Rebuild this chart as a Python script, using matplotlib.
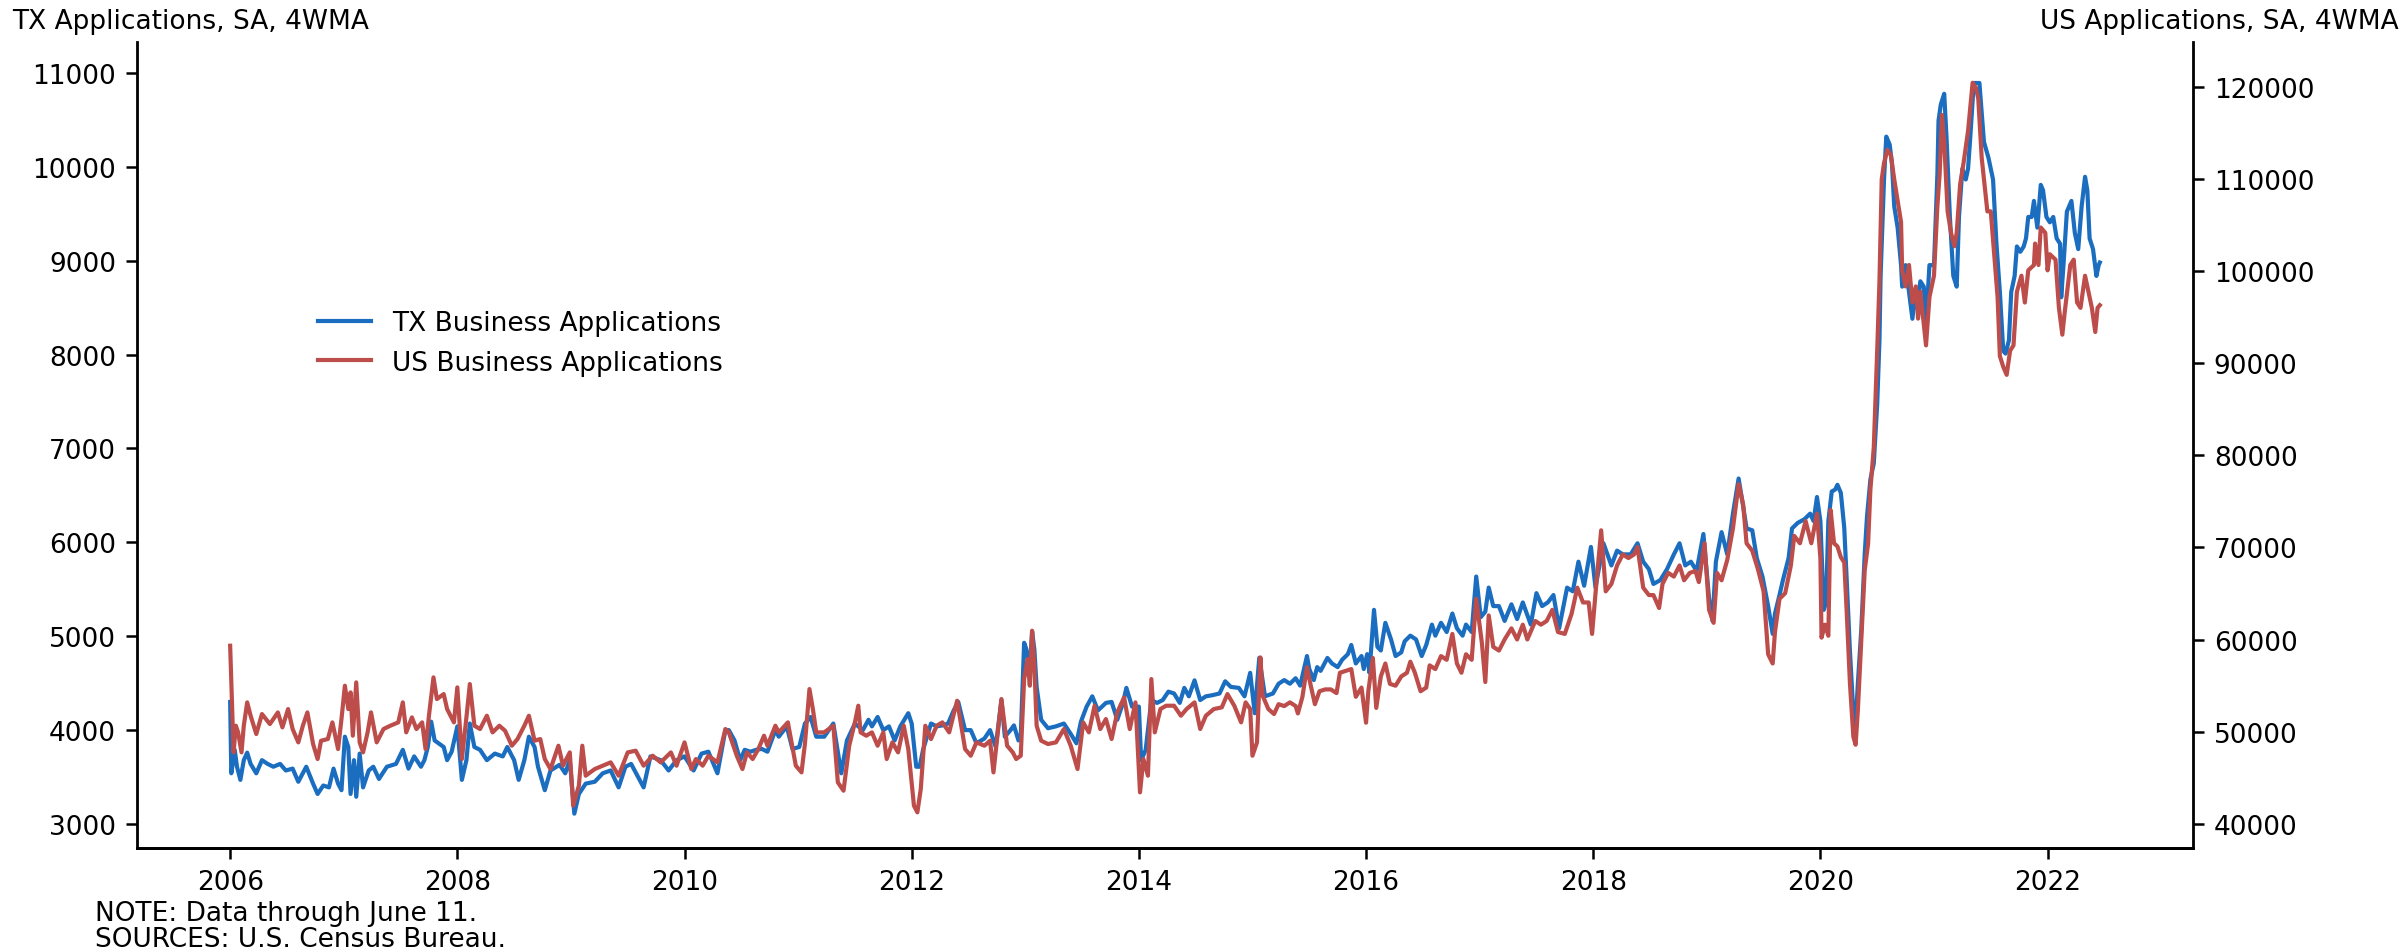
import matplotlib
matplotlib.use("Agg")
import matplotlib.pyplot as plt
from matplotlib.ticker import FuncFormatter

# ---------------- data (decimal years) ----------------
tx_years = [
    2006.00, 2006.01, 2006.04, 2006.06, 2006.09, 2006.12, 2006.15, 2006.18, 2006.23, 2006.28,
    2006.33, 2006.38, 2006.44, 2006.49, 2006.55, 2006.60, 2006.67, 2006.73, 2006.77, 2006.82,
    2006.87, 2006.91, 2006.95, 2006.98, 2007.01, 2007.04, 2007.06, 2007.09, 2007.11, 2007.14,
    2007.17, 2007.22, 2007.26, 2007.31, 2007.38, 2007.46, 2007.52, 2007.57, 2007.62, 2007.68,
    2007.71, 2007.74, 2007.77, 2007.80, 2007.88, 2007.91, 2007.95, 2008.00, 2008.04, 2008.08,
    2008.11, 2008.15, 2008.20, 2008.26, 2008.33, 2008.40, 2008.44, 2008.50, 2008.54, 2008.59,
    2008.63, 2008.68, 2008.71, 2008.77, 2008.82, 2008.90, 2008.95, 2008.99, 2009.03, 2009.07,
    2009.13, 2009.21, 2009.28, 2009.35, 2009.42, 2009.48, 2009.53, 2009.64, 2009.70, 2009.79,
    2009.86, 2009.93, 2010.00, 2010.08, 2010.15, 2010.21, 2010.29, 2010.36, 2010.39, 2010.44,
    2010.49, 2010.53, 2010.58, 2010.63, 2010.68, 2010.73, 2010.80, 2010.83, 2010.90, 2010.95,
    2011.01, 2011.06, 2011.11, 2011.16, 2011.23, 2011.31, 2011.38, 2011.43, 2011.50, 2011.57,
    2011.62, 2011.65, 2011.70, 2011.75, 2011.80, 2011.85, 2011.90, 2011.97, 2012.00, 2012.04,
    2012.07, 2012.10, 2012.17, 2012.22, 2012.27, 2012.32, 2012.37, 2012.41, 2012.47, 2012.52,
    2012.57, 2012.64, 2012.69, 2012.74, 2012.79, 2012.82, 2012.87, 2012.90, 2012.94, 2012.96,
    2012.99, 2013.01, 2013.04, 2013.06, 2013.08, 2013.10, 2013.14, 2013.20, 2013.27, 2013.34,
    2013.40, 2013.45, 2013.49, 2013.54, 2013.59, 2013.64, 2013.71, 2013.76, 2013.81, 2013.86,
    2013.89, 2013.94, 2014.00, 2014.02, 2014.06, 2014.11, 2014.16, 2014.21, 2014.26, 2014.31,
    2014.36, 2014.40, 2014.44, 2014.49, 2014.54, 2014.59, 2014.64, 2014.71, 2014.76, 2014.81,
    2014.88, 2014.93, 2014.98, 2015.02, 2015.06, 2015.11, 2015.18, 2015.23, 2015.28, 2015.33,
    2015.38, 2015.42, 2015.48, 2015.50, 2015.54, 2015.57, 2015.60, 2015.66, 2015.70, 2015.75,
    2015.79, 2015.84, 2015.87, 2015.91, 2015.96, 2015.98, 2016.01, 2016.03, 2016.07, 2016.10,
    2016.13, 2016.17, 2016.22, 2016.26, 2016.31, 2016.34, 2016.39, 2016.44, 2016.49, 2016.53,
    2016.58, 2016.61, 2016.66, 2016.71, 2016.76, 2016.80, 2016.85, 2016.88, 2016.93, 2016.97,
    2017.01, 2017.05, 2017.08, 2017.12, 2017.17, 2017.22, 2017.28, 2017.33, 2017.38, 2017.45,
    2017.50, 2017.55, 2017.60, 2017.65, 2017.70, 2017.77, 2017.82, 2017.87, 2017.92, 2017.98,
    2018.02, 2018.09, 2018.16, 2018.21, 2018.26, 2018.33, 2018.39, 2018.44, 2018.49, 2018.53,
    2018.59, 2018.65, 2018.71, 2018.76, 2018.81, 2018.86, 2018.91, 2018.97, 2019.02, 2019.05,
    2019.08, 2019.13, 2019.18, 2019.23, 2019.28, 2019.32, 2019.35, 2019.40, 2019.44, 2019.49,
    2019.54, 2019.58, 2019.60, 2019.64, 2019.67, 2019.72, 2019.75, 2019.80, 2019.86, 2019.91,
    2019.94, 2019.97, 2020.00, 2020.03, 2020.05, 2020.07, 2020.10, 2020.13, 2020.15, 2020.18,
    2020.21, 2020.23, 2020.26, 2020.29, 2020.31, 2020.33, 2020.36, 2020.39, 2020.41, 2020.44,
    2020.47, 2020.50, 2020.52, 2020.53, 2020.56, 2020.58, 2020.61, 2020.63, 2020.65, 2020.68,
    2020.71, 2020.72, 2020.75, 2020.78, 2020.81, 2020.83, 2020.85, 2020.88, 2020.91, 2020.93,
    2020.96, 2021.00, 2021.03, 2021.04, 2021.06, 2021.09, 2021.11, 2021.14, 2021.17, 2021.20,
    2021.22, 2021.25, 2021.28, 2021.30, 2021.32, 2021.35, 2021.38, 2021.40, 2021.44, 2021.48,
    2021.52, 2021.55, 2021.58, 2021.61, 2021.63, 2021.66, 2021.68, 2021.71, 2021.73, 2021.76,
    2021.79, 2021.81, 2021.83, 2021.86, 2021.88, 2021.91, 2021.94, 2021.96, 2021.99, 2022.02,
    2022.05, 2022.08, 2022.11, 2022.12, 2022.14, 2022.17, 2022.21, 2022.24, 2022.27, 2022.30,
    2022.33, 2022.35, 2022.37, 2022.40, 2022.43, 2022.45, 2022.46,
]
tx_values = [
    4300, 3540, 3790, 3610, 3470, 3680, 3760, 3640, 3540, 3680,
    3640, 3610, 3640, 3570, 3590, 3450, 3610, 3430, 3320, 3410,
    3390, 3590, 3430, 3360, 3930, 3820, 3320, 3680, 3290, 3750,
    3390, 3570, 3610, 3480, 3610, 3640, 3790, 3590, 3720, 3610,
    3680, 3820, 4090, 3890, 3820, 3680, 3770, 4040, 3470, 3680,
    4070, 3820, 3790, 3680, 3750, 3720, 3820, 3680, 3470, 3680,
    3930, 3820, 3610, 3360, 3570, 3630, 3540, 3680, 3110, 3320,
    3430, 3450, 3540, 3570, 3390, 3610, 3640, 3390, 3720, 3680,
    3570, 3680, 3720, 3570, 3750, 3770, 3540, 4000, 4000, 3890,
    3680, 3790, 3770, 3790, 3800, 3770, 4000, 3930, 4040, 3800,
    3820, 4070, 4140, 3930, 3930, 4070, 3540, 3890, 4070, 4000,
    4110, 4040, 4140, 4000, 4040, 3890, 4040, 4180, 4070, 3610,
    3610, 3790, 4070, 4040, 4050, 4070, 4210, 4300, 4000, 4000,
    3860, 3910, 4000, 3820, 4320, 3930, 4000, 4050, 3890, 3930,
    4930, 4860, 4640, 5050, 4860, 4460, 4110, 4020, 4040, 4070,
    3960, 3860, 4090, 4250, 4360, 4210, 4290, 4300, 4110, 4290,
    4450, 4250, 4250, 3680, 3790, 4320, 4290, 4320, 4410, 4390,
    4290, 4450, 4360, 4530, 4320, 4360, 4370, 4390, 4520, 4460,
    4450, 4360, 4610, 4180, 4770, 4360, 4390, 4494, 4533, 4494,
    4553, 4474, 4789, 4651, 4533, 4671, 4631, 4769, 4710, 4671,
    4750, 4809, 4907, 4710, 4789, 4651, 4809, 4612, 5281, 4887,
    4848, 5143, 4966, 4789, 4828, 4946, 5006, 4966, 4789, 4907,
    5124, 5006, 5143, 5045, 5242, 5085, 5006, 5124, 5045, 5636,
    5203, 5262, 5518, 5321, 5321, 5163, 5340, 5183, 5360, 5124,
    5459, 5321, 5360, 5439, 5085, 5518, 5478, 5794, 5538, 5951,
    5518, 5990, 5754, 5912, 5872, 5872, 5990, 5794, 5715, 5557,
    5597, 5715, 5872, 5990, 5754, 5794, 5695, 6089, 5400, 5163,
    5794, 6109, 5872, 6306, 6680, 6384, 6148, 6129, 5833, 5636,
    5321, 5025, 5242, 5439, 5597, 5833, 6148, 6207, 6247, 6306,
    6227, 6483, 6227, 5281, 5360, 6227, 6542, 6562, 6613, 6527,
    6156, 5642, 4843, 4187, 4044, 4501, 5072, 5871, 6270, 6670,
    6841, 7469, 8153, 8838, 9865, 10322, 10237, 10037, 9580, 9352,
    8953, 8724, 8953, 8667, 8382, 8610, 8496, 8781, 8724, 8325,
    8953, 8953, 9923, 10493, 10664, 10778, 10322, 9466, 8838, 8724,
    9466, 9980, 9865, 9980, 10322, 10893, 10893, 10893, 10265, 10094,
    9865, 9181, 8667, 8039, 8011, 8153, 8667, 8838, 9152, 9095,
    9152, 9238, 9466, 9466, 9637, 9352, 9808, 9751, 9466, 9409,
    9466, 9238, 9181, 8610, 8953, 9523, 9637, 9295, 9124, 9580,
    9894, 9751, 9238, 9124, 8838, 8953, 8981,
]

us_years = [
    2006.00, 2006.03, 2006.05, 2006.07, 2006.10, 2006.12, 2006.15, 2006.18, 2006.23, 2006.28,
    2006.35, 2006.42, 2006.46, 2006.51, 2006.55, 2006.60, 2006.64, 2006.68, 2006.73, 2006.77,
    2006.80, 2006.86, 2006.90, 2006.95, 2006.98, 2007.01, 2007.04, 2007.06, 2007.08, 2007.11,
    2007.14, 2007.17, 2007.21, 2007.24, 2007.29, 2007.35, 2007.41, 2007.48, 2007.52, 2007.55,
    2007.60, 2007.64, 2007.69, 2007.72, 2007.75, 2007.79, 2007.82, 2007.88, 2007.91, 2007.97,
    2008.00, 2008.04, 2008.08, 2008.11, 2008.15, 2008.20, 2008.26, 2008.31, 2008.37, 2008.42,
    2008.48, 2008.53, 2008.59, 2008.63, 2008.68, 2008.73, 2008.77, 2008.82, 2008.89, 2008.93,
    2008.99, 2009.02, 2009.07, 2009.10, 2009.13, 2009.21, 2009.28, 2009.35, 2009.42, 2009.50,
    2009.57, 2009.64, 2009.72, 2009.79, 2009.88, 2009.93, 2010.00, 2010.06, 2010.10, 2010.16,
    2010.21, 2010.29, 2010.36, 2010.39, 2010.46, 2010.51, 2010.55, 2010.60, 2010.65, 2010.70,
    2010.73, 2010.80, 2010.83, 2010.91, 2010.98, 2011.03, 2011.06, 2011.10, 2011.13, 2011.16,
    2011.23, 2011.31, 2011.35, 2011.40, 2011.45, 2011.50, 2011.53, 2011.55, 2011.60, 2011.65,
    2011.70, 2011.75, 2011.78, 2011.83, 2011.88, 2011.93, 2011.97, 2012.02, 2012.05, 2012.08,
    2012.12, 2012.17, 2012.22, 2012.27, 2012.33, 2012.40, 2012.47, 2012.52, 2012.57, 2012.64,
    2012.69, 2012.72, 2012.79, 2012.84, 2012.89, 2012.92, 2012.96, 2012.99, 2013.02, 2013.04,
    2013.06, 2013.08, 2013.10, 2013.14, 2013.20, 2013.27, 2013.34, 2013.40, 2013.46, 2013.51,
    2013.56, 2013.61, 2013.66, 2013.71, 2013.76, 2013.81, 2013.87, 2013.92, 2013.97, 2014.01,
    2014.04, 2014.08, 2014.11, 2014.14, 2014.19, 2014.24, 2014.31, 2014.37, 2014.42, 2014.49,
    2014.54, 2014.59, 2014.66, 2014.73, 2014.78, 2014.84, 2014.90, 2014.94, 2014.98, 2015.00,
    2015.04, 2015.07, 2015.09, 2015.14, 2015.19, 2015.23, 2015.28, 2015.33, 2015.38, 2015.40,
    2015.44, 2015.48, 2015.51, 2015.55, 2015.59, 2015.64, 2015.69, 2015.74, 2015.77, 2015.82,
    2015.87, 2015.91, 2015.96, 2016.00, 2016.02, 2016.06, 2016.09, 2016.13, 2016.17, 2016.21,
    2016.26, 2016.31, 2016.36, 2016.39, 2016.43, 2016.48, 2016.53, 2016.56, 2016.61, 2016.66,
    2016.71, 2016.76, 2016.80, 2016.84, 2016.88, 2016.93, 2016.97, 2017.02, 2017.05, 2017.08,
    2017.12, 2017.17, 2017.22, 2017.28, 2017.33, 2017.38, 2017.42, 2017.49, 2017.54, 2017.59,
    2017.64, 2017.69, 2017.75, 2017.81, 2017.86, 2017.91, 2017.96, 2017.99, 2018.03, 2018.07,
    2018.11, 2018.16, 2018.21, 2018.26, 2018.31, 2018.36, 2018.39, 2018.44, 2018.49, 2018.53,
    2018.58, 2018.61, 2018.66, 2018.71, 2018.76, 2018.80, 2018.85, 2018.90, 2018.93, 2018.98,
    2019.02, 2019.06, 2019.09, 2019.13, 2019.18, 2019.23, 2019.28, 2019.32, 2019.35, 2019.40,
    2019.45, 2019.50, 2019.54, 2019.58, 2019.60, 2019.64, 2019.69, 2019.74, 2019.77, 2019.82,
    2019.87, 2019.92, 2019.97, 2020.00, 2020.01, 2020.04, 2020.07, 2020.09, 2020.12, 2020.15,
    2020.18, 2020.21, 2020.23, 2020.26, 2020.29, 2020.31, 2020.33, 2020.36, 2020.39, 2020.42,
    2020.44, 2020.47, 2020.50, 2020.52, 2020.54, 2020.56, 2020.59, 2020.62, 2020.65, 2020.68,
    2020.71, 2020.72, 2020.75, 2020.78, 2020.81, 2020.84, 2020.86, 2020.88, 2020.91, 2020.93,
    2020.96, 2021.00, 2021.03, 2021.05, 2021.07, 2021.09, 2021.12, 2021.15, 2021.18, 2021.20,
    2021.23, 2021.26, 2021.30, 2021.34, 2021.37, 2021.39, 2021.42, 2021.47, 2021.50, 2021.53,
    2021.56, 2021.58, 2021.61, 2021.64, 2021.67, 2021.70, 2021.73, 2021.77, 2021.80, 2021.83,
    2021.88, 2021.89, 2021.92, 2021.94, 2021.98, 2022.00, 2022.02, 2022.07, 2022.10, 2022.13,
    2022.15, 2022.20, 2022.23, 2022.26, 2022.29, 2022.33, 2022.36, 2022.39, 2022.42, 2022.44,
    2022.46,
]
us_values = [
    59343, 47775, 50667, 49944, 47775, 50667, 53197, 51751, 49764, 51932,
    50847, 52107, 50486, 52475, 50306, 48860, 50667, 52113, 48680, 47052,
    49040, 49222, 51029, 48137, 51390, 55005, 52475, 54282, 49583, 55367,
    48860, 47775, 49944, 52113, 48860, 50306, 50667, 51029, 53197, 49944,
    51570, 50306, 51029, 48137, 51751, 55909, 53559, 54101, 52475, 51029,
    54824, 47052, 51570, 55186, 50667, 50306, 51751, 49944, 50667, 50125,
    48498, 49222, 50667, 51751, 49040, 49222, 47052, 45968, 48498, 46330,
    47775, 41991, 44160, 48498, 45245, 45968, 46330, 46691, 45245, 47775,
    47956, 46330, 47413, 46691, 47775, 46330, 48860, 45968, 47052, 46330,
    47413, 46691, 50306, 49944, 47413, 45968, 47775, 47052, 48137, 49583,
    48498, 50667, 49944, 51029, 46330, 45606, 48680, 54643, 52475, 49944,
    49944, 50667, 44522, 43618, 48498, 51029, 52836, 49944, 49583, 49944,
    48498, 49944, 47052, 48860, 47775, 50667, 48137, 41991, 41268, 43799,
    50667, 49222, 50667, 51029, 49944, 53378, 48137, 47413, 48860, 48498,
    49040, 45606, 53559, 48498, 47775, 47052, 47413, 55728, 57897, 55005,
    60970, 57174, 50667, 49040, 48680, 48860, 50306, 48498, 45968, 51029,
    49944, 52836, 50306, 51390, 49222, 52113, 53740, 50306, 53197, 43437,
    47052, 45245, 55728, 49944, 52475, 52836, 52836, 51751, 52475, 53197,
    50306, 51751, 52475, 52656, 54101, 52836, 51029, 53197, 52475, 47413,
    48860, 58078, 53920, 52475, 51932, 53000, 52799, 53200, 52799, 51996,
    53802, 57013, 55207, 53000, 54404, 54605, 54605, 54203, 56410, 56611,
    56812, 53802, 54805, 50993, 54404, 58016, 52598, 56009, 57414, 55207,
    55006, 56009, 56410, 57615, 56410, 54404, 54805, 57214, 56812, 58217,
    57816, 60624, 57414, 56410, 58417, 57816, 64437, 59621, 55408, 62631,
    59220, 58818, 60022, 61226, 60022, 61627, 60022, 62029, 61627, 62029,
    63233, 60825, 60624, 62832, 65641, 64036, 64036, 60624, 66443, 71861,
    65240, 66041, 68048, 69252, 68851, 69252, 70054, 65641, 64838, 64838,
    63434, 66041, 67246, 66844, 68048, 66443, 67246, 67447, 66242, 70456,
    63233, 61828, 67246, 66443, 68650, 72061, 76877, 74670, 70456, 69653,
    67647, 65240, 58417, 57414, 60825, 64437, 65039, 68048, 71259, 70456,
    72864, 70456, 73667, 68851, 60223, 61627, 60423, 74068, 70456, 70117,
    68954, 68373, 63430, 55291, 49477, 48605, 52384, 59942, 67500, 70408,
    76222, 80873, 91338, 98896, 109944, 111688, 113140, 112560, 109944, 107617,
    105292, 100059, 98315, 100640, 96570, 98315, 94826, 97733, 94245, 91919,
    97152, 99478, 107036, 110525, 116920, 114013, 106455, 104129, 102676, 104129,
    109362, 111688, 115176, 120408, 119827, 118664, 112269, 106455, 106455, 101804,
    97152, 90757, 89594, 88722, 91338, 91919, 97733, 99478, 96570, 100059,
    100640, 102966, 100640, 104710, 104129, 100059, 101804, 101222, 95989, 93082,
    95408, 100640, 101222, 96570, 95989, 99478, 97733, 95989, 93373, 95989,
    96280,
]

tx_label = "TX Business Applications"
us_label = "US Business Applications"
left_title = "TX Applications, SA, 4WMA"
right_title = "US Applications, SA, 4WMA"
note_lines = ["NOTE: Data through June 11.", "SOURCES: U.S. Census Bureau."]
x_ticks = [2006, 2008, 2010, 2012, 2014, 2016, 2018, 2020, 2022]
tx_ticks = [3000, 4000, 5000, 6000, 7000, 8000, 9000, 10000, 11000]
us_ticks = [40000, 50000, 60000, 70000, 80000, 90000, 100000, 110000, 120000]

# ---------------- styling ----------------
plt.rcParams['font.family'] = ['DejaVu Sans']
FS = 9.5
BLUE = "#1b6dbf"
RED = "#bd4d4a"
LW = 1.5

fig = plt.figure(figsize=(12.04, 4.765), dpi=200)
ax = fig.add_axes([0.0569, 0.1091, 0.9107 - 0.0569, 0.9549 - 0.1091])
ax2 = ax.twinx()

l1, = ax.plot(tx_years, tx_values, color=BLUE, lw=LW, label=tx_label)
l2, = ax2.plot(us_years, us_values, color=RED, lw=LW, label=us_label)

ax.set_ylim(2744, 11330)
ax2.set_ylim(37400, 124830)
ax.set_xlim(2005.18, 2023.28)

ax.set_xticks(x_ticks)
ax.xaxis.set_major_formatter(FuncFormatter(lambda v, p: f"{int(round(v))}"))
ax.set_yticks(tx_ticks)
ax2.set_yticks(us_ticks)

for a in (ax, ax2):
    a.tick_params(labelsize=FS, width=0.9, length=4)
    a.spines['top'].set_visible(False)
    for s in a.spines.values():
        s.set_linewidth(1.0)
ax.spines['right'].set_visible(False)
ax2.spines['left'].set_visible(False)

ax2.legend(handles=[l1, l2], loc='center left', bbox_to_anchor=(0.1276, 0.639),
           bbox_transform=fig.transFigure, frameon=False, fontsize=FS,
           handlelength=2.0, borderaxespad=0.0)

fig.text(12 / 2408, 1 - 22 / 953, left_title, ha='left', va='center', fontsize=FS)
fig.text(2399 / 2408, 1 - 22 / 953, right_title, ha='right', va='center', fontsize=FS)
fig.text(95 / 2408, 1 - 914 / 953, note_lines[0], ha='left', va='center', fontsize=FS)
fig.text(95 / 2408, 1 - 940 / 953, note_lines[1], ha='left', va='center', fontsize=FS)

fig.savefig("out.png", dpi=200)
